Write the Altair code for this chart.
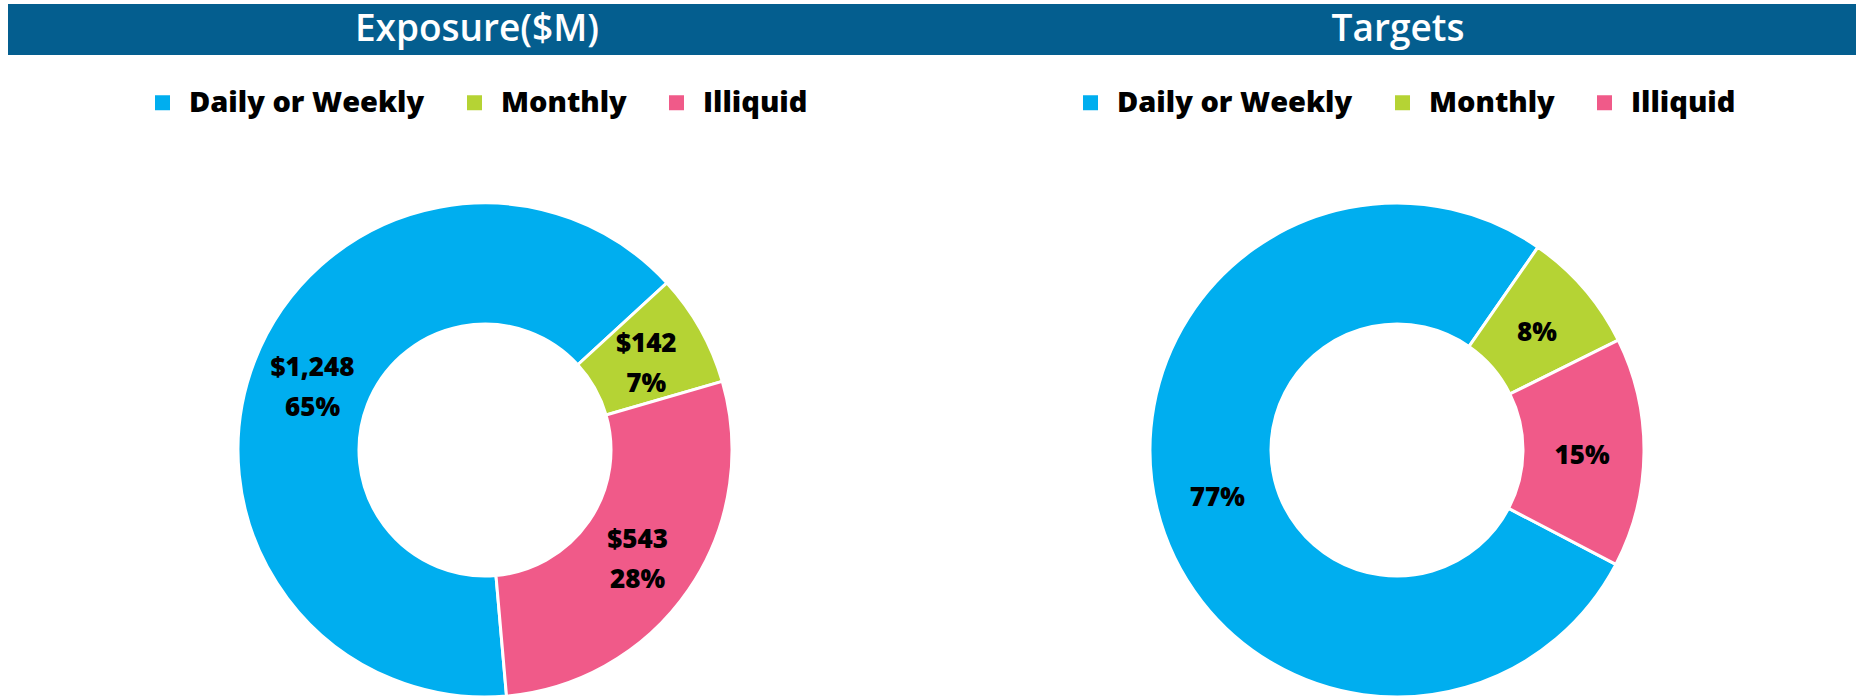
import math
import altair as alt
import pandas as pd

categories = ["Daily or Weekly", "Monthly", "Illiquid"]
exposure_values = [1248, 142, 543]
target_pcts = [77, 8, 15]
colors = ["#00AEEF", "#B5D334", "#F05A89"]
panel_titles = ["Exposure($M)", "Targets"]

total = sum(exposure_values)
exp_df = pd.DataFrame({"cat": categories, "value": exposure_values, "ord": [0, 1, 2]})
exp_df["label"] = [f"${v:,}\n{round(v / total * 100):.0f}%" for v in exposure_values]
tgt_df = pd.DataFrame({"cat": categories, "value": target_pcts, "ord": [0, 1, 2]})
tgt_df["label"] = [f"{p}%" for p in target_pcts]

HEADER = "#045E8F"
FONT = "Open Sans"
W, H = 928, 696


def panel(df, title, cx, tx, start_deg, hx0, hx1, lx, label_dy):
    start = math.radians(start_deg)
    theta = alt.Theta("value:Q", stack=True,
                      scale=alt.Scale(range=[start, start + 2 * math.pi]))
    tdf = pd.DataFrame({"t": [title]})
    header = alt.Chart(tdf).mark_rect(color=HEADER).encode(
        x=alt.value(hx0), x2=alt.value(hx1), y=alt.value(4), y2=alt.value(55))
    ttl = alt.Chart(tdf).mark_text(font=FONT, fontSize=37, fontWeight=600,
                                   color="white", baseline="middle",
                                   align="center").encode(
        text="t:N", x=alt.value(tx), y=alt.value(30))
    base = alt.Chart(df)
    arcs = base.mark_arc(outerRadius=247, innerRadius=126, stroke="white",
                         strokeWidth=3).encode(
        theta=theta,
        color=alt.Color("cat:N", sort=categories,
                        scale=alt.Scale(domain=categories, range=colors),
                        legend=alt.Legend(orient="none", legendX=lx, legendY=88,
                                          direction="horizontal", title=None,
                                          symbolType="square", symbolSize=225,
                                          symbolStrokeWidth=0, labelFont=FONT,
                                          labelFontSize=29, labelFontWeight=800,
                                          labelColor="black", columnPadding=35,
                                          labelOffset=12, padding=0,
                                          labelLimit=400)),
        order=alt.Order("ord:Q"),
        x=alt.value(cx), y=alt.value(450))
    labels = base.mark_text(radius=185, font=FONT, fontSize=26,
                            fontWeight=800, lineBreak="\n", lineHeight=40,
                            baseline="middle", align="center", dy=label_dy,
                            color="black").encode(
        theta=theta, text="label:N", order=alt.Order("ord:Q"),
        x=alt.value(cx), y=alt.value(450))
    return alt.layer(header, ttl, arcs, labels).properties(width=W, height=H)


left = panel(exp_df, panel_titles[0], 485, 477, 175.0, 8, W, 148, -15)
right = panel(tgt_df, panel_titles[1], 469, 470, 117.6, 0, W, 148, 4)

chart = alt.hconcat(left, right, spacing=0).resolve_scale(
    color="independent", theta="independent"
).properties(padding=0).configure_view(stroke=None)

chart.save("out.html", embed_options={"renderer": "svg", "actions": False})
